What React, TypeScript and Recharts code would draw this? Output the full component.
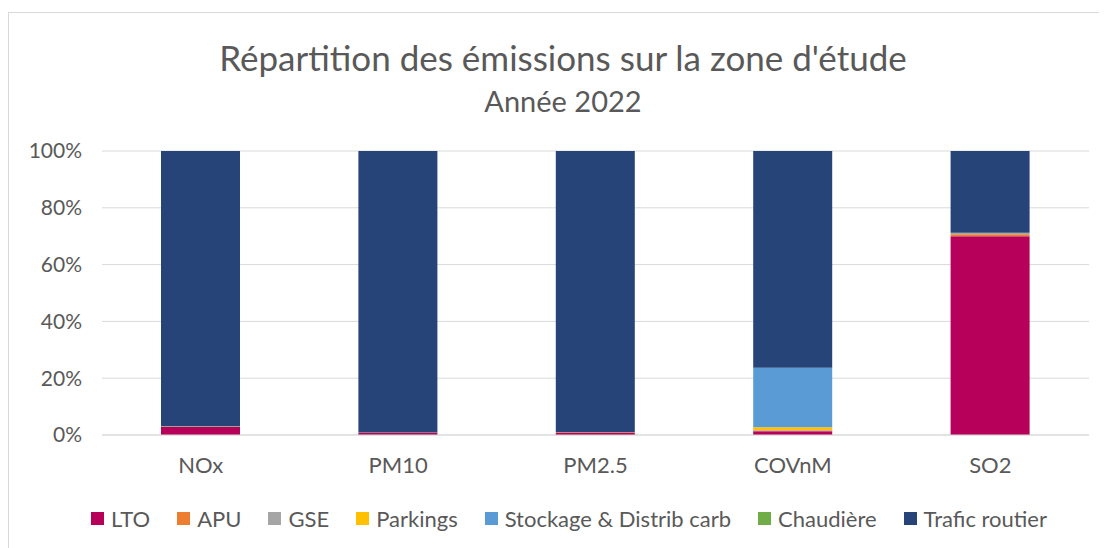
import { BarChart, Bar, XAxis, YAxis, CartesianGrid } from "recharts"

const categories = ["NOx", "PM10", "PM2.5", "COVnM", "SO2"]
const lto = [2.8, 0.8, 0.9, 1.3, 70.0]
const apu = [0.1, 0.05, 0.05, 0.3, 0.7]
const gse = [0.1, 0.05, 0.05, 0.2, 0.4]
const parkings = [0, 0, 0, 0.9, 0]
const stockage = [0, 0, 0, 21.0, 0]
const chaudiere = [0.05, 0.02, 0.02, 0.02, 0.1]
const trafic = [96.95, 99.08, 98.98, 76.28, 28.8]
const yTicks = [0, 20, 40, 60, 80, 100]

const series = [
  { key: "LTO", values: lto, color: "#B6005A" },
  { key: "APU", values: apu, color: "#ED7D31" },
  { key: "GSE", values: gse, color: "#A5A5A5" },
  { key: "Parkings", values: parkings, color: "#FFC000" },
  { key: "Stockage & Distrib carb", values: stockage, color: "#5B9BD5" },
  { key: "Chaudière", values: chaudiere, color: "#70AD47" },
  { key: "Trafic routier", values: trafic, color: "#264478" },
]

const data = categories.map((name, i) => {
  const row: Record<string, string | number> = { name }
  series.forEach((s) => (row[s.key] = s.values[i]))
  return row
})

const font = "Lato, 'Open Sans', sans-serif"
const grey = "#595959"

// legend drawn outside the svg so it doesn't eat plot height
function LegendRow() {
  return (
    <div style={{ position: "absolute", top: 492, left: 0, width: 1120, display: "flex", justifyContent: "center", gap: 27, fontFamily: font, fontSize: 22, color: grey }}>
      {series.map((s) => (
        <div key={s.key} style={{ display: "flex", alignItems: "center", gap: 7 }}>
          <span style={{ display: "inline-block", width: 13, height: 13, background: s.color }} />
          <span>{s.key}</span>
        </div>
      ))}
    </div>
  )
}

export default function App() {
  return (
    <div style={{ position: "relative", width: 1099, height: 536, marginTop: 4, borderTop: "1px solid #d9d9d9", borderLeft: "1px solid #d9d9d9", boxSizing: "border-box", background: "#fff" }}>
      <div style={{ position: "absolute", top: 23, left: 0, width: 1108, textAlign: "center", fontFamily: font, fontSize: 35, color: grey }}>
        Répartition des émissions sur la zone d'étude
      </div>
      <div style={{ position: "absolute", top: 70, left: 0, width: 1108, textAlign: "center", fontFamily: font, fontSize: 29, color: grey }}>
        Année 2022
      </div>
      <div style={{ position: "absolute", top: 0, left: 0 }}>
        <BarChart
          width={1098}
          height={535}
          data={data}
          margin={{ top: 138, right: 18, left: 0, bottom: 53 }}
          barSize={79}
        >
          <CartesianGrid vertical={false} stroke="#d9d9d9" />
          <XAxis
            dataKey="name"
            axisLine={{ stroke: "#d9d9d9" }}
            tickLine={false}
            tick={{ fill: grey, fontSize: 22, fontFamily: font }}
            tickMargin={16}
            height={60}
          />
          <YAxis
            domain={[0, 100]}
            ticks={yTicks}
            tickFormatter={(v) => `${v}%`}
            axisLine={false}
            tickLine={false}
            tick={{ fill: grey, fontSize: 21, fontFamily: font }}
            width={93}
            tickMargin={14}
          />
          {series.map((s) => (
            <Bar key={s.key} dataKey={s.key} stackId="a" fill={s.color} isAnimationActive={false} />
          ))}
        </BarChart>
      </div>
      <LegendRow />
    </div>
  )
}
